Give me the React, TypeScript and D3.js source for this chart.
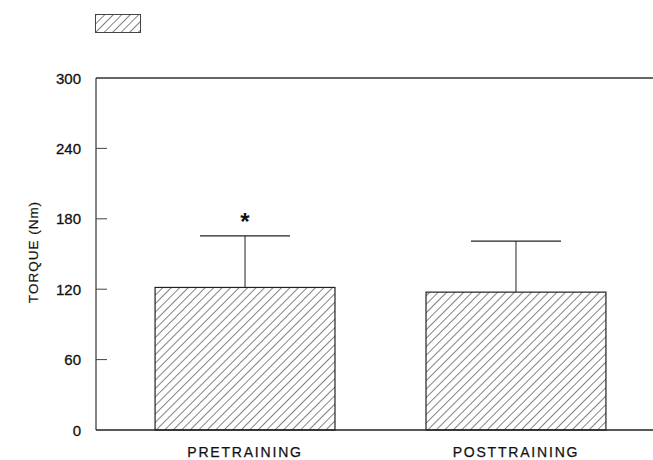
import React from "react";
import * as d3 from "d3";

const categories = ["PRETRAINING", "POSTTRAINING"];
const means = [121.5, 117.5];
const sdUpper = [165.5, 161];
const significance = ["*", ""];
const yTicks = [0, 60, 120, 180, 240, 300];

const W = 653;
const H = 460;
const margin = { left: 96, top: 78 };

export default function App() {
  const plotBottom = 430;
  const y = d3.scaleLinear().domain([0, 300]).range([plotBottom, margin.top]);
  const x = d3
    .scaleBand<string>()
    .domain(categories)
    .range([margin.left, 665])
    .paddingInner(0.336)
    .paddingOuter(0.218);
  const barW = x.bandwidth();
  const font = "'Liberation Sans', Arial, Helvetica, sans-serif";

  return (
    <svg
      width={W}
      height={H}
      style={{ position: "absolute", left: 0, top: 0, background: "#fff" }}
    >
      <defs>
        <pattern
          id="hatch"
          patternUnits="userSpaceOnUse"
          width={6}
          height={6}
          patternTransform="rotate(45)"
        >
          <line x1={0} y1={0} x2={0} y2={6} stroke="#1a1a1a" strokeWidth={1.1} />
        </pattern>
      </defs>

      {/* legend swatch */}
      <rect x={95.5} y={14.5} width={45} height={18} fill="url(#hatch)" stroke="#444" strokeWidth={1} />

      {/* bars with upper SD whiskers */}
      {categories.map((c, i) => {
        const bx = x(c)!;
        const cx = bx + barW / 2;
        return (
          <g key={c}>
            <line x1={cx} x2={cx} y1={y(means[i])} y2={y(sdUpper[i])} stroke="#222" strokeWidth={1} />
            <line x1={cx - 45} x2={cx + 45} y1={y(sdUpper[i])} y2={y(sdUpper[i])} stroke="#222" strokeWidth={1.2} />
            <rect
              x={bx}
              y={y(means[i])}
              width={barW}
              height={plotBottom - y(means[i])}
              fill="url(#hatch)"
              stroke="#222"
              strokeWidth={1.2}
            />
            {significance[i] && (
              <text
                x={cx}
                y={y(sdUpper[i]) - 6}
                textAnchor="middle"
                fontFamily={font}
                fontSize={24}
                fontWeight="bold"
                fill="#111"
              >
                {significance[i]}
              </text>
            )}
            <text
              x={cx}
              y={457}
              textAnchor="middle"
              fontFamily={font}
              fontSize={14}
              letterSpacing={1.8}
              fill="#111"
              stroke="#111"
              strokeWidth={0.25}
            >
              {c}
            </text>
          </g>
        );
      })}

      {/* axes */}
      <line x1={margin.left} x2={margin.left} y1={y(300)} y2={plotBottom} stroke="#333" strokeWidth={1.2} />
      <line x1={margin.left} x2={W} y1={y(300)} y2={y(300)} stroke="#333" strokeWidth={1.3} />
      <line x1={margin.left} x2={W} y1={plotBottom} y2={plotBottom} stroke="#222" strokeWidth={1.4} />
      {yTicks.map((t) => (
        <g key={t}>
          {t > 0 && t < 300 && (
            <line x1={margin.left} x2={margin.left + 11} y1={y(t)} y2={y(t)} stroke="#444" strokeWidth={1} />
          )}
          <text
            x={81}
            y={y(t) + 5.5}
            textAnchor="end"
            fontFamily={font}
            fontSize={15}
            fill="#111"
            stroke="#111"
            strokeWidth={0.3}
          >
            {t}
          </text>
        </g>
      ))}
      <text
        transform={`translate(38, 252) rotate(-90)`}
        textAnchor="middle"
        fontFamily={font}
        fontSize={13.5}
        letterSpacing={1}
        fill="#111"
        stroke="#111"
        strokeWidth={0.2}
      >
        TORQUE (Nm)
      </text>
    </svg>
  );
}
